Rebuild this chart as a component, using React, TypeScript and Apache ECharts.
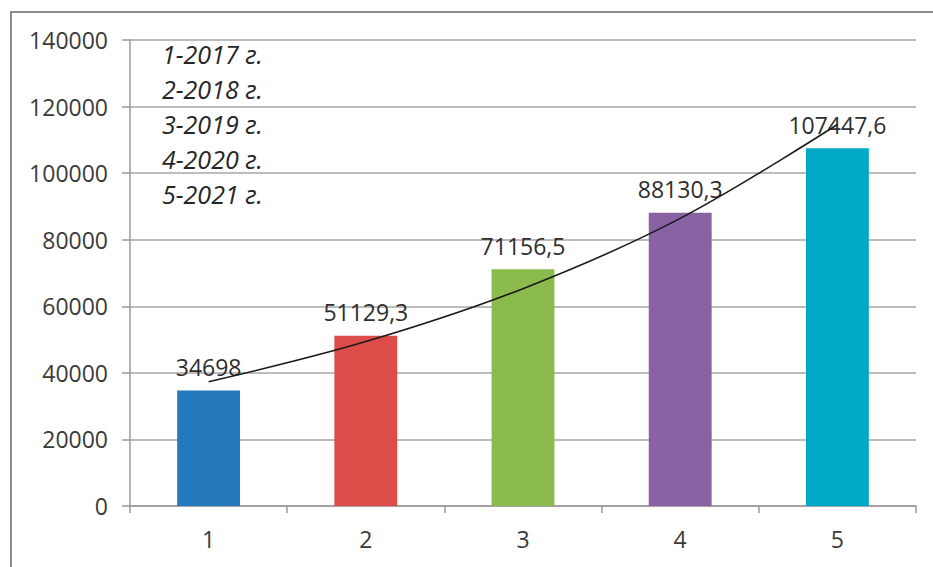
import React, { useEffect, useRef } from "react";
import * as echarts from "echarts";

const categories = ["1", "2", "3", "4", "5"];
const values = [34698, 51129.3, 71156.5, 88130.3, 107447.6];
const trendValues = [37300, 49400, 65300, 86400, 114600];
const barColors = ["#2479BD", "#DC4D4A", "#8BBB4D", "#8862A3", "#00AAC6"];
const yearNotes = ["1-2017 г.", "2-2018 г.", "3-2019 г.", "4-2020 г.", "5-2021 г."];
const yTicks = { min: 0, max: 140000, interval: 20000 };

const FONT = "'Open Sans', 'Noto Sans', sans-serif";

export default function App() {
  const ref = useRef<HTMLDivElement>(null);
  useEffect(() => {
    if (!ref.current) return;
    const chart = echarts.init(ref.current, null, { renderer: "svg" });
    const noteTexts = yearNotes.map((t, i) => ({
      type: "text",
      x: 162,
      y: 54 + i * 35,
      style: {
        text: t,
        fill: "#262626",
        font: `italic 25px ${FONT}`,
        verticalAlign: "middle",
        align: "left",
      },
      z: 10,
    }));
    chart.setOption({
      animation: false,
      backgroundColor: "#ffffff",
      grid: { left: 130, right: 17, top: 40, bottom: 61, containLabel: false },
      xAxis: {
        type: "category",
        data: categories,
        boundaryGap: true,
        axisLine: { show: true, lineStyle: { color: "#9a9a9a", width: 1.5 } },
        axisTick: { show: true, length: 7, lineStyle: { color: "#9a9a9a", width: 1.5 } },
        axisLabel: { color: "#3a3a3a", fontFamily: FONT, fontSize: 23, margin: 21 },
        splitLine: { show: false },
      },
      yAxis: {
        type: "value",
        min: yTicks.min,
        max: yTicks.max,
        interval: yTicks.interval,
        axisLine: { show: true, lineStyle: { color: "#9a9a9a", width: 1.5 } },
        axisTick: { show: true, length: 8, lineStyle: { color: "#9a9a9a", width: 1.5 } },
        axisLabel: {
          color: "#3a3a3a",
          fontFamily: FONT,
          fontSize: 23,
          margin: 22,
          formatter: (v: number) => String(v),
        },
        splitLine: { show: true, lineStyle: { color: "#a6a6a6", width: 1.5 } },
      },
      series: [
        {
          type: "bar",
          barWidth: "40%",
          data: values.map((v, i) => ({ value: v, itemStyle: { color: barColors[i] } })),
          label: {
            show: true,
            position: "top",
            distance: 12,
            color: "#2e2e2e",
            fontFamily: FONT,
            fontSize: 23,
            formatter: (p: any) => String(p.value).replace(".", ","),
          },
          z: 2,
        },
        {
          type: "line",
          data: trendValues,
          smooth: 0.35,
          symbol: "none",
          lineStyle: { color: "#1a1a1a", width: 1.6 },
          z: 5,
        },
      ],
      graphic: [
        {
          type: "rect",
          shape: { x: 11, y: 12, width: 1200, height: 1000 },
          style: { fill: "none", stroke: "#8c8c8c", lineWidth: 2 },
          z: 0,
          silent: true,
        },
        ...noteTexts,
      ],
    });
    return () => chart.dispose();
  }, []);
  return (
    <div
      ref={ref}
      style={{ position: "fixed", left: 0, top: 0, width: 933, height: 567 }}
    />
  );
}
